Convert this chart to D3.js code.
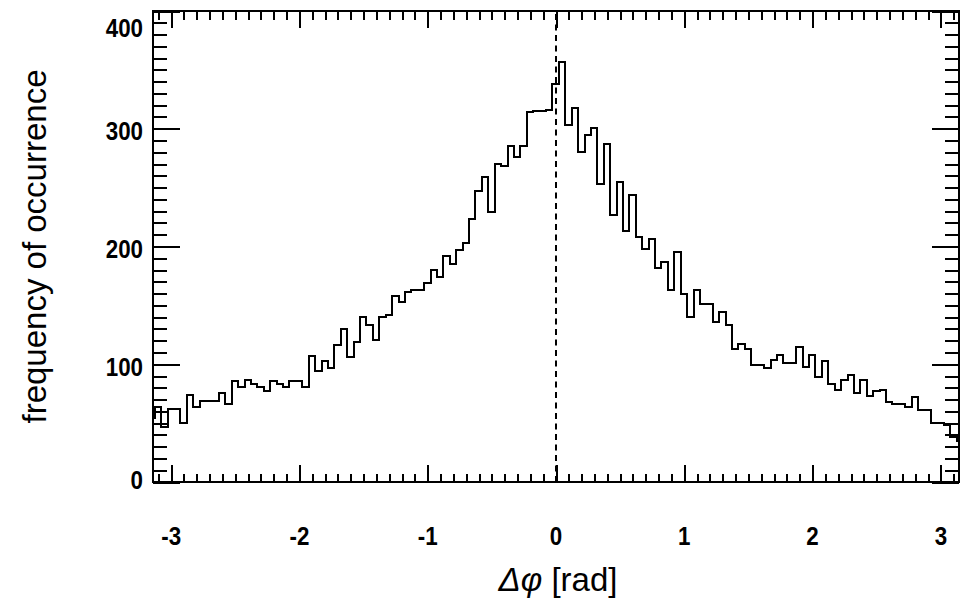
<!DOCTYPE html>
<html>
<head>
<meta charset="utf-8">
<script src="https://cdn.jsdelivr.net/npm/d3@7"></script>
<style>
  html, body { margin: 0; padding: 0; background: #fff; }
  svg { display: block; }
  text { font-family: "Liberation Sans", Arial, Helvetica, sans-serif; fill: #000; }
</style>
</head>
<body>
<svg id="chart" width="967" height="601"></svg>
<script>
// ---- data ----
// histogram bin edges (radians): a short leading partial bin at -pi, then 0.05-rad bins
const firstBinEdge = -3.1276;
const binWidth = 0.05;
// counts per bin (leading partial bin first)
const counts = [
  54,
  64, 47, 62, 62, 50, 74, 64, 69, 69, 69,
  76, 66, 86, 81, 87, 83, 81, 77, 86, 83,
  81, 86, 86, 81, 107, 94, 103, 97, 116, 130,
  106, 119, 140, 133, 121, 140, 142, 158, 153, 161,
  163, 163, 169, 180, 174, 192, 185, 197, 203, 223,
  247, 259, 229, 270, 268, 285, 276, 285, 314, 315,
  315, 316, 338, 357, 303, 318, 280, 295, 301, 253,
  287, 227, 255, 213, 244, 208, 198, 206, 182, 187,
  163, 195, 160, 140, 163, 151, 151, 136, 144, 133,
  113, 117, 113, 99, 99, 97, 104, 108, 101, 101,
  115, 98, 108, 89, 103, 83, 78, 87, 91, 76,
  87, 73, 77, 78, 68, 66, 66, 64, 72, 61,
  61, 50, 50, 48, 38, 35
];
const xTickValues = [-3, -2, -1, 0, 1, 2, 3];
const xTickLabels = ["-3", "-2", "-1", "0", "1", "2", "3"];
const yTickValues = [0, 100, 200, 300, 400];
const yTickLabels = ["0", "100", "200", "300", "400"];
const xTitle = ["Δφ", " [rad]"];
const yTitle = "frequency of occurrence";

// ---- layout ----
const W = 967, H = 601;
const L = 153, R = 959, T = 11, B = 482;

const svg = d3.select("#chart");
svg.append("rect").attr("width", W).attr("height", H).attr("fill", "#fff");

const x = d3.scaleLinear().domain([-Math.PI, Math.PI]).range([L, R]);
const y = d3.scaleLinear().domain([0, 400]).range([B, T]);

// bin edges
const edges = [-Math.PI];
for (let i = 0; i < counts.length; i++) {
  edges.push(Math.min(Math.PI, firstBinEdge + binWidth * i));
}
// edges has counts.length + 1 entries
const pts = [];
counts.forEach((c, i) => {
  pts.push([edges[i], c]);
  pts.push([edges[i + 1], c]);
});

const line = d3.line().x(d => x(d[0])).y(d => y(d[1]));

// dashed zero line
svg.append("line")
  .attr("x1", x(0)).attr("x2", x(0))
  .attr("y1", y(0)).attr("y2", y(400))
  .attr("stroke", "#000").attr("stroke-width", 2)
  .attr("stroke-dasharray", "6,4.5");

// histogram
svg.append("path")
  .attr("d", line(pts))
  .attr("fill", "none")
  .attr("stroke", "#000")
  .attr("stroke-width", 2)
  .attr("stroke-linejoin", "miter")
  .attr("shape-rendering", "crispEdges");

// ---- axes / ticks ----
const xMinor = d3.range(-31, 32).map(i => i / 10).filter(v => Math.abs(v - Math.round(v)) > 1e-9);
const yMinor = d3.range(0, 401, 10).filter(v => v % 100 !== 0);

function tickGroup(axis, transform) {
  const g = svg.append("g").attr("transform", transform).call(axis);
  g.select(".domain").remove();
  g.selectAll("text").remove();
  g.selectAll("line").attr("stroke", "#000").attr("stroke-width", 2).attr("shape-rendering", "crispEdges");
  return g;
}

// bottom
tickGroup(d3.axisBottom(x).tickValues(xMinor).tickSize(-8.5), `translate(0,${B})`);
tickGroup(d3.axisBottom(x).tickValues(xTickValues).tickSize(-17), `translate(0,${B})`);
// top
tickGroup(d3.axisTop(x).tickValues(xMinor).tickSize(-8.5), `translate(0,${T})`);
tickGroup(d3.axisTop(x).tickValues(xTickValues).tickSize(-17), `translate(0,${T})`);
// left
tickGroup(d3.axisLeft(y).tickValues(yMinor).tickSize(-14), `translate(${L},0)`);
tickGroup(d3.axisLeft(y).tickValues(yTickValues).tickSize(-27), `translate(${L},0)`);
// right
tickGroup(d3.axisRight(y).tickValues(yMinor).tickSize(-14), `translate(${R},0)`);
tickGroup(d3.axisRight(y).tickValues(yTickValues).tickSize(-27), `translate(${R},0)`);

// frame
svg.append("rect")
  .attr("x", L).attr("y", T).attr("width", R - L).attr("height", B - T)
  .attr("fill", "none").attr("stroke", "#000").attr("stroke-width", 2)
  .attr("shape-rendering", "crispEdges");

// ---- tick labels ----
const labelSize = 26, labelSquash = 0.86;
xTickValues.forEach((v, i) => {
  svg.append("text")
    .attr("transform", `translate(${x(v)},545) scale(${labelSquash},1)`)
    .attr("text-anchor", "middle")
    .attr("font-size", labelSize)
    .attr("font-weight", "bold")
    .text(xTickLabels[i]);
});
yTickValues.forEach((v, i) => {
  const by = Math.max(T + 26, Math.min(B + 6.5, y(v) + 11.7));
  svg.append("text")
    .attr("transform", `translate(143,${by}) scale(${labelSquash},1)`)
    .attr("text-anchor", "end")
    .attr("font-size", labelSize)
    .attr("font-weight", "bold")
    .text(yTickLabels[i]);
});

// ---- titles ----
const xt = svg.append("text")
  .attr("x", (L + R) / 2 + 2).attr("y", 591)
  .attr("text-anchor", "middle")
  .attr("font-size", 33);
xt.append("tspan").attr("font-style", "italic").text(xTitle[0]);
xt.append("tspan").text(xTitle[1]);

svg.append("text")
  .attr("transform", `translate(46,${(T + B) / 2}) rotate(-90)`)
  .attr("text-anchor", "middle")
  .attr("font-size", 33)
  .text(yTitle);
</script>
</body>
</html>
